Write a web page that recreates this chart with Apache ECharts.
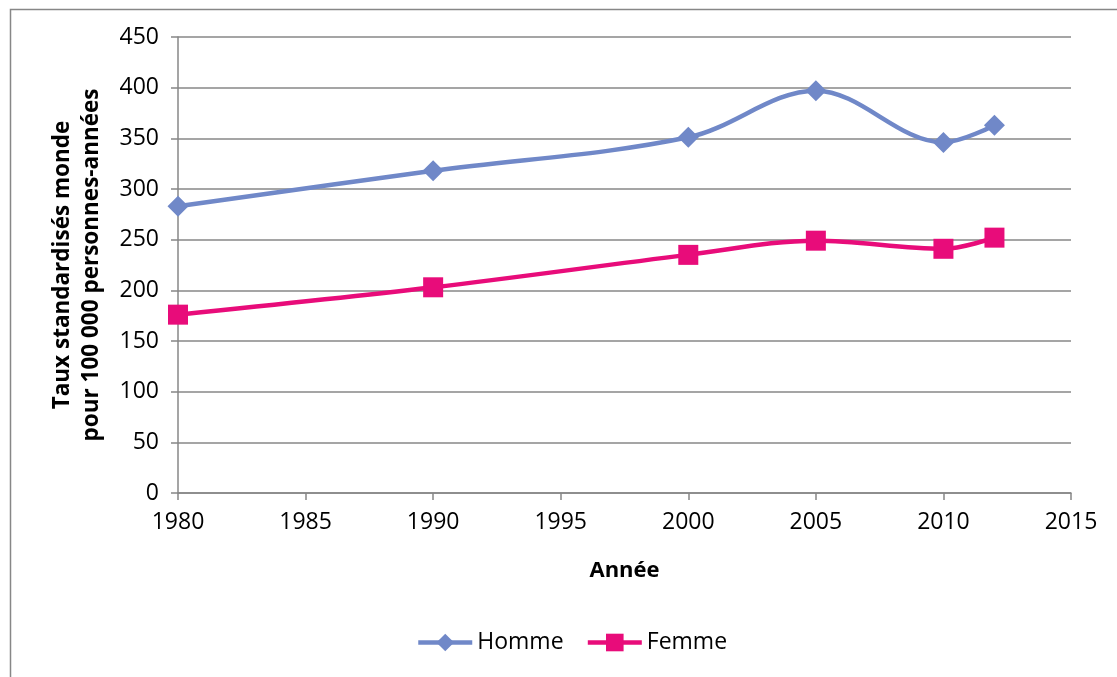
<!DOCTYPE html>
<html><head><meta charset="utf-8">
<script src="https://cdn.jsdelivr.net/npm/echarts@6/dist/echarts.min.js"></script>
<style>html,body{margin:0;padding:0;background:#fff}#c{width:1117px;height:677px}</style>
</head><body><div id="c"></div>
<script>
const years = [1980, 1990, 2000, 2005, 2010, 2012];
const homme = [283, 318, 351, 397, 346, 363];
const femme = [176, 203, 235, 249, 241, 252];
const seriesNames = ['Homme', 'Femme'];
const yAxisTitle = 'Taux standardisés monde\npour 100 000 personnes-années';
const xAxisTitle = 'Année';

const FONT = '"Open Sans", sans-serif';
const chart = echarts.init(document.getElementById('c'));
chart.setOption({
  animation: false,
  backgroundColor: '#fff',
  graphic: [{
    type: 'rect', left: 8, top: 7,
    shape: { width: 1300, height: 900 },
    style: { fill: 'none', stroke: '#878787', lineWidth: 1.5 }, silent: true
  }],
  grid: { left: 178, right: 46, top: 37, bottom: 184 },
  legend: {
    top: 626, left: 411, itemWidth: 54, itemHeight: 22, itemGap: 22,
    textStyle: { fontFamily: FONT, fontSize: 23, color: '#000' },
    lineStyle: { width: 4.5 },
    data: seriesNames
  },
  xAxis: {
    type: 'value', min: 1980, max: 2015, interval: 5,
    name: xAxisTitle, nameLocation: 'middle', nameGap: 67,
    nameTextStyle: { fontFamily: FONT, fontSize: 22, fontWeight: 'bold', color: '#000' },
    axisLine: { lineStyle: { color: '#878787', width: 1.5 } },
    axisTick: { show: true, length: 7, lineStyle: { color: '#878787', width: 1.5 } },
    axisLabel: { fontFamily: FONT, fontSize: 23, color: '#000', margin: 18, formatter: v => String(v) },
    splitLine: { show: false }
  },
  yAxis: {
    type: 'value', min: 0, max: 450, interval: 50,
    name: yAxisTitle, nameLocation: 'middle', nameGap: 72, nameRotate: 90,
    nameTextStyle: { fontFamily: FONT, fontSize: 22.5, fontWeight: 'bold', color: '#000', lineHeight: 29 },
    axisLine: { show: true, lineStyle: { color: '#878787', width: 1.5 } },
    axisTick: { show: true, length: 7, lineStyle: { color: '#878787', width: 1.5 } },
    axisLabel: { fontFamily: FONT, fontSize: 23, color: '#000', margin: 19 },
    splitLine: { lineStyle: { color: '#878787', width: 1.5 } }
  },
  series: [
    {
      name: seriesNames[0], type: 'line', smooth: 0.35,
      data: years.map((y, i) => [y, homme[i]]),
      symbol: 'diamond', symbolSize: 21,
      lineStyle: { color: '#7088C8', width: 4.5 },
      itemStyle: { color: '#7088C8' }
    },
    {
      name: seriesNames[1], type: 'line', smooth: 0.35,
      data: years.map((y, i) => [y, femme[i]]),
      symbol: 'rect', symbolSize: 20,
      lineStyle: { color: '#E80C7A', width: 4.5 },
      itemStyle: { color: '#E80C7A' }
    }
  ]
});
</script></body></html>
